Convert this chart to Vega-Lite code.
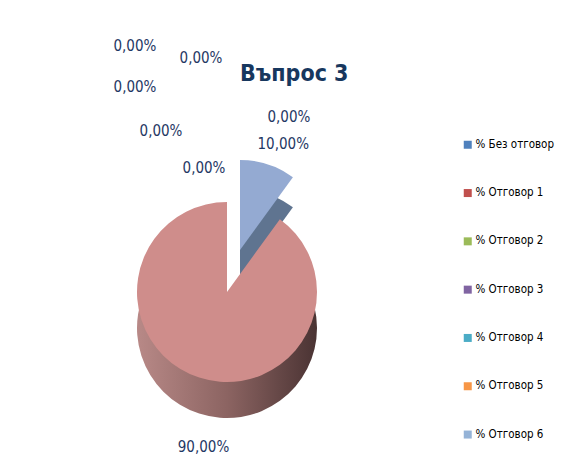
{
  "$schema": "https://vega.github.io/schema/vega-lite/v6.json",
  "autosize": {"type": "none"},
  "width": 400,
  "height": 300,
  "padding": {"left": 27, "top": 142, "right": 134, "bottom": 32},
  "background": "white",
  "config": {
    "view": {"stroke": null},
    "locale": {"number": {"decimal": ",", "thousands": " ", "grouping": [3], "currency": ["", ""]}}
  },
  "title": {
    "text": "Въпрос 3",
    "anchor": "start",
    "frame": "group",
    "dx": 213,
    "dy": 64,
    "offset": 0,
    "font": "DejaVu Sans Condensed, sans-serif",
    "fontSize": 23,
    "fontWeight": "bold",
    "color": "#17375E"
  },
  "data": {
    "values": [
      {"series": "% Без отговор", "share": 0},
      {"series": "% Отговор 1", "share": 0.9},
      {"series": "% Отговор 2", "share": 0},
      {"series": "% Отговор 3", "share": 0},
      {"series": "% Отговор 4", "share": 0},
      {"series": "% Отговор 5", "share": 0},
      {"series": "% Отговор 6", "share": 0.1},
      {"series": "% Отговор 7", "share": 0}
    ]
  },
  "layer": [
    {
      "mark": {"type": "arc", "outerRadius": 90, "opacity": 0},
      "encoding": {
        "theta": {"field": "share", "type": "quantitative", "stack": true, "scale": {"range": [0.6283185307, 6.9115038379]}},
        "order": {"field": "series", "type": "ordinal", "sort": "ascending"},
        "color": {
          "field": "series",
          "type": "nominal",
          "scale": {
            "domain": ["% Без отговор", "% Отговор 1", "% Отговор 2", "% Отговор 3", "% Отговор 4", "% Отговор 5", "% Отговор 6", "% Отговор 7"],
            "range": ["#4F81BD", "#C0504D", "#9BBB59", "#8064A2", "#4BACC6", "#F79646", "#95B3D7", "#2C4D75"]
          },
          "legend": {
            "title": null,
            "orient": "none",
            "legendX": 435,
            "legendY": -3,
            "values": ["% Без отговор", "% Отговор 1", "% Отговор 2", "% Отговор 3", "% Отговор 4", "% Отговор 5", "% Отговор 6"],
            "symbolType": "square",
            "symbolSize": 64,
            "symbolStrokeWidth": 0,
            "symbolOpacity": 1,
            "labelFont": "DejaVu Sans Condensed, sans-serif",
            "labelFontSize": 11.5,
            "labelColor": "#000000",
            "labelOffset": 2,
            "labelLimit": 200,
            "rowPadding": 35.3,
            "padding": 0
          }
        }
      }
    },
    {
      "mark": {
        "type": "arc",
        "outerRadius": 90,
        "yOffset": 36,
        "fill": {"gradient": "linear", "x1": 0, "y1": 0, "x2": 1, "y2": 0,
          "stops": [{"offset": 0, "color": "#B88987"}, {"offset": 0.5, "color": "#8C6462"}, {"offset": 1, "color": "#4A3333"}]}
      },
      "encoding": {
        "theta": {"field": "share", "type": "quantitative", "stack": true, "scale": {"range": [0.6283185307, 6.9115038379]}},
        "order": {"field": "series", "type": "ordinal", "sort": "ascending"},
        "detail": {"field": "series", "type": "nominal"},
        "opacity": {"condition": {"test": "datum.series === '% Отговор 1'", "value": 1}, "value": 0}
      }
    },
    {
      "mark": {"type": "arc", "outerRadius": 90, "xOffset": 13, "yOffset": -12, "fill": "#5F7490"},
      "encoding": {
        "theta": {"field": "share", "type": "quantitative", "stack": true, "scale": {"range": [0.6283185307, 6.9115038379]}},
        "order": {"field": "series", "type": "ordinal", "sort": "ascending"},
        "detail": {"field": "series", "type": "nominal"},
        "opacity": {"condition": {"test": "datum.series === '% Отговор 6'", "value": 1}, "value": 0}
      }
    },
    {
      "mark": {"type": "arc", "outerRadius": 90},
      "encoding": {
        "theta": {"field": "share", "type": "quantitative", "stack": true, "scale": {"range": [0.6283185307, 6.9115038379]}},
        "order": {"field": "series", "type": "ordinal", "sort": "ascending"},
        "fill": {
          "field": "series",
          "type": "nominal",
          "scale": {
            "domain": ["% Без отговор", "% Отговор 1", "% Отговор 2", "% Отговор 3", "% Отговор 4", "% Отговор 5", "% Отговор 6", "% Отговор 7"],
            "range": ["#4F81BD", "#CF8D8B", "#9BBB59", "#8064A2", "#4BACC6", "#F79646", "#94AAD2", "#2C4D75"]
          },
          "legend": null
        },
        "opacity": {"condition": {"test": "datum.series === '% Отговор 6'", "value": 0}, "value": 1}
      }
    },
    {
      "mark": {"type": "arc", "outerRadius": 90, "xOffset": 13, "yOffset": -42},
      "encoding": {
        "theta": {"field": "share", "type": "quantitative", "stack": true, "scale": {"range": [0.6283185307, 6.9115038379]}},
        "order": {"field": "series", "type": "ordinal", "sort": "ascending"},
        "fill": {"field": "series", "type": "nominal", "legend": null},
        "opacity": {"condition": {"test": "datum.series === '% Отговор 6'", "value": 1}, "value": 0}
      }
    },
    {
      "mark": {"type": "text", "radius": 157, "dx": 25, "dy": 6, "font": "DejaVu Sans Condensed, sans-serif", "fontSize": 15, "color": "#1F3864", "align": "center", "baseline": "middle"},
      "encoding": {
        "theta": {"field": "share", "type": "quantitative", "stack": true, "scale": {"range": [0.6283185307, 6.9115038379]}},
        "order": {"field": "series", "type": "ordinal", "sort": "ascending"},
        "detail": {"field": "series", "type": "nominal"},
        "text": {"condition": {"test": "datum.series === '% Отговор 1'", "field": "share", "type": "quantitative", "format": ".2%"}, "value": ""}
      }
    },
    {
      "mark": {"type": "text", "radius": 114, "xOffset": 13, "yOffset": -42, "dx": 8, "dy": 2, "font": "DejaVu Sans Condensed, sans-serif", "fontSize": 15, "color": "#1F3864", "align": "center", "baseline": "middle"},
      "encoding": {
        "theta": {"field": "share", "type": "quantitative", "stack": true, "scale": {"range": [0.6283185307, 6.9115038379]}},
        "order": {"field": "series", "type": "ordinal", "sort": "ascending"},
        "detail": {"field": "series", "type": "nominal"},
        "text": {"condition": {"test": "datum.series === '% Отговор 6'", "field": "share", "type": "quantitative", "format": ".2%"}, "value": ""}
      }
    },
    {
      "mark": {"type": "text", "radius": 90, "dx": 9, "dy": -102, "font": "DejaVu Sans Condensed, sans-serif", "fontSize": 15, "color": "#1F3864", "align": "center", "baseline": "middle"},
      "encoding": {
        "theta": {"field": "share", "type": "quantitative", "stack": true, "scale": {"range": [0.6283185307, 6.9115038379]}},
        "order": {"field": "series", "type": "ordinal", "sort": "ascending"},
        "detail": {"field": "series", "type": "nominal"},
        "text": {"condition": {"test": "datum.series === '% Без отговор'", "field": "share", "type": "quantitative", "format": ".2%"}, "value": ""}
      }
    },
    {
      "mark": {"type": "text", "radius": 90, "dx": -23, "dy": -34, "font": "DejaVu Sans Condensed, sans-serif", "fontSize": 15, "color": "#1F3864", "align": "center", "baseline": "middle"},
      "encoding": {
        "theta": {"field": "share", "type": "quantitative", "stack": true, "scale": {"range": [0.6283185307, 6.9115038379]}},
        "order": {"field": "series", "type": "ordinal", "sort": "ascending"},
        "detail": {"field": "series", "type": "nominal"},
        "text": {"condition": {"test": "datum.series === '% Отговор 2'", "field": "share", "type": "quantitative", "format": ".2%"}, "value": ""}
      }
    },
    {
      "mark": {"type": "text", "radius": 90, "dx": -66, "dy": -71, "font": "DejaVu Sans Condensed, sans-serif", "fontSize": 15, "color": "#1F3864", "align": "center", "baseline": "middle"},
      "encoding": {
        "theta": {"field": "share", "type": "quantitative", "stack": true, "scale": {"range": [0.6283185307, 6.9115038379]}},
        "order": {"field": "series", "type": "ordinal", "sort": "ascending"},
        "detail": {"field": "series", "type": "nominal"},
        "text": {"condition": {"test": "datum.series === '% Отговор 3'", "field": "share", "type": "quantitative", "format": ".2%"}, "value": ""}
      }
    },
    {
      "mark": {"type": "text", "radius": 90, "dx": -92, "dy": -115, "font": "DejaVu Sans Condensed, sans-serif", "fontSize": 15, "color": "#1F3864", "align": "center", "baseline": "middle"},
      "encoding": {
        "theta": {"field": "share", "type": "quantitative", "stack": true, "scale": {"range": [0.6283185307, 6.9115038379]}},
        "order": {"field": "series", "type": "ordinal", "sort": "ascending"},
        "detail": {"field": "series", "type": "nominal"},
        "text": {"condition": {"test": "datum.series === '% Отговор 4'", "field": "share", "type": "quantitative", "format": ".2%"}, "value": ""}
      }
    },
    {
      "mark": {"type": "text", "radius": 90, "dx": -26, "dy": -144, "font": "DejaVu Sans Condensed, sans-serif", "fontSize": 15, "color": "#1F3864", "align": "center", "baseline": "middle"},
      "encoding": {
        "theta": {"field": "share", "type": "quantitative", "stack": true, "scale": {"range": [0.6283185307, 6.9115038379]}},
        "order": {"field": "series", "type": "ordinal", "sort": "ascending"},
        "detail": {"field": "series", "type": "nominal"},
        "text": {"condition": {"test": "datum.series === '% Отговор 5'", "field": "share", "type": "quantitative", "format": ".2%"}, "value": ""}
      }
    },
    {
      "mark": {"type": "text", "radius": 90, "dx": -145, "dy": -173, "font": "DejaVu Sans Condensed, sans-serif", "fontSize": 15, "color": "#1F3864", "align": "center", "baseline": "middle"},
      "encoding": {
        "theta": {"field": "share", "type": "quantitative", "stack": true, "scale": {"range": [0.6283185307, 6.9115038379]}},
        "order": {"field": "series", "type": "ordinal", "sort": "ascending"},
        "detail": {"field": "series", "type": "nominal"},
        "text": {"condition": {"test": "datum.series === '% Отговор 7'", "field": "share", "type": "quantitative", "format": ".2%"}, "value": ""}
      }
    }
  ]
}
